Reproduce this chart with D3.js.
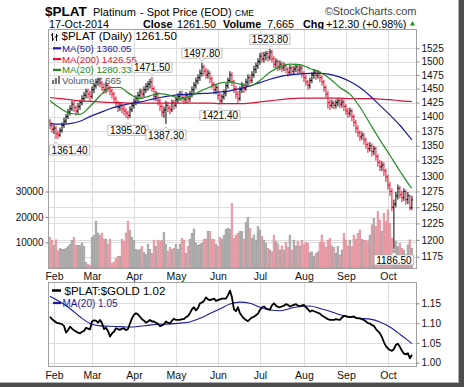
<!DOCTYPE html>
<html><head><meta charset="utf-8">
<script src="https://cdn.jsdelivr.net/npm/d3@7"></script>
<style>
html,body{margin:0;padding:0;background:#fff;}
svg{display:block;font-family:"Liberation Sans",Arial,sans-serif;}
</style></head><body>
<svg id="c" width="464" height="387"></svg>
<script>
// ---------------- data ----------------
const months = ["Feb","Mar","Apr","May","Jun","Jul","Aug","Sep","Oct"];
const monthStart = [2,21,42,63,84,105,127,148,169]; // trading-day index of first session of each month
const prevCloseStart = 1392;
const close = [1385,1378,1380,1370,1368,1376,1385,1392,1400,1408,1414,1422,1416,1410,1418,1425,1432,1438,1445,1440,1436,
1448,1455,1462,1466,1460,1452,1448,1456,1450,1446,1440,1432,1424,1416,1420,1414,1410,1406,1402,1412,1420,
1426,1432,1438,1444,1440,1448,1454,1458,1462,1450,1436,1440,1428,1418,1408,1412,1420,1415,1412,1425,1420,
1430,1436,1440,1434,1430,1438,1432,1440,1448,1456,1464,1470,1478,1490,1482,1475,1478,1468,1458,1448,1452,
1438,1428,1435,1442,1455,1465,1475,1462,1450,1440,1432,1448,1455,1450,1462,1470,1465,1475,1485,1492,1500,
1510,1505,1512,1515,1508,1518,1505,1495,1500,1490,1495,1488,1492,1485,1480,1488,1482,1486,1490,1484,1488,1478,
1470,1462,1456,1465,1475,1480,1474,1478,1470,1462,1452,1440,1425,1420,1424,1420,1425,1428,1422,1426,1418,
1410,1406,1410,1400,1390,1380,1372,1365,1368,1360,1352,1345,1350,1340,1345,1332,1322,1315,1318,1308,1298,
1285,1275,1250,1255,1268,1280,1270,1265,1275,1262,1268,1249.2,1261.5];
const high = [1396,1390,1386,1384,1376,1381,1390,1398,1405,1414,1420,1428,1428,1420,1424,1430,1438,1444,1450,1450,1446,
1454,1461,1468,1470,1470,1464,1458,1462,1460,1455,1450,1444,1436,1428,1426,1424,1420,1415,1410,1418,1425,
1432,1438,1444,1450,1450,1454,1460,1464,1468,1471.5,1454,1446,1444,1432,1422,1418,1428,1426,1420,1430,1430,
1436,1442,1446,1446,1440,1444,1442,1446,1454,1462,1470,1476,1485,1497.8,1494,1488,1485,1482,1472,1462,1458,
1456,1442,1440,1448,1460,1470,1482,1480,1466,1455,1446,1454,1462,1460,1468,1476,1476,1482,1492,1498,1506,
1516,1518,1518,1520,1520,1523.8,1522,1510,1506,1504,1502,1500,1498,1496,1490,1494,1492,1492,1496,1494,1494,1492,
1482,1475,1466,1470,1480,1486,1485,1484,1482,1474,1466,1456,1446,1430,1430,1428,1430,1433,1432,1432,1430,
1422,1415,1416,1414,1404,1394,1385,1376,1374,1372,1364,1356,1356,1354,1350,1348,1336,1326,1324,1322,1312,
1302,1290,1280,1262,1274,1286,1284,1276,1280,1278,1274,1270,1268];
const low = [1378,1372,1370,1361.4,1362,1365,1372,1380,1388,1396,1402,1410,1408,1402,1405,1412,1420,1426,1432,1432,1428,
1432,1442,1450,1455,1452,1446,1440,1442,1444,1438,1432,1424,1416,1408,1410,1406,1402,1398,1395.2,1398,1408,
1414,1420,1426,1432,1432,1434,1442,1446,1450,1444,1428,1428,1420,1410,1400,1398,1387.3,1408,1404,1408,1412,
1416,1424,1428,1426,1422,1424,1424,1426,1434,1442,1450,1458,1464,1472,1474,1468,1468,1460,1450,1440,1440,
1430,1421.4,1424,1430,1436,1450,1460,1455,1442,1432,1423,1428,1442,1442,1446,1456,1458,1460,1470,1478,1486,
1494,1498,1498,1502,1500,1502,1498,1488,1488,1482,1484,1480,1482,1478,1472,1474,1475,1476,1480,1476,1478,1470,
1462,1455,1448,1450,1460,1468,1466,1468,1462,1455,1444,1434,1414,1412,1415,1413,1414,1418,1415,1416,1410,
1403,1398,1400,1392,1383,1372,1365,1358,1360,1352,1345,1338,1340,1332,1334,1325,1315,1308,1308,1300,1290,
1278,1268,1244,1186.5,1250,1262,1264,1258,1260,1254,1255,1245,1246];
const volume = [12000,10700,8700,11000,6700,7600,7300,7300,7600,8500,9300,10700,12000,8900,8700,8700,9700,8400,2000,1300,900,
12000,12700,18400,13700,12700,13700,11300,11300,9300,11300,1700,2300,3600,4400,4600,11300,10300,13700,18400,14700,
12000,10700,7300,6900,7300,8400,6000,5300,9300,7300,5700,10900,8400,10700,10300,10700,
14000,9300,6500,8000,7300,7600,9300,7300,9300,11600,10700,5700,8400,11300,13600,15300,9700,8900,9300,9700,11300,11300,
14400,14400,11300,11100,9300,8400,12000,11300,12700,15000,15600,15200,25400,11600,12900,13600,14200,14200,11300,17800,
19900,15600,11600,12900,10900,
16200,14900,12300,10900,9600,7600,7000,6300,12900,10300,9400,7000,8600,7000,9900,8000,12900,7000,10900,8600,10300,8600,
10700,9000,9900,9600,5900,6300,4600,5700,6300,9900,12900,9900,8000,10900,11600,8600,8000,5700,8300,5000,7000,13600,
10900,8600,10900,8300,12900,11200,13600,14900,11200,10900,10700,10300,12900,16900,19500,16200,22100,18800,14200,21500,
18200,22800,17500,11600,7000,10300,8300,9600,7600,7000,5000,9000,11000,7665];
// moving averages read every 5 sessions (last entry = final session)
const maStep = 5;
const ma50 = [1388,1387,1388,1392,1400,1407,1414,1419,1423,1426,1430,1434,1437,1439,1440,1441,1442,1444,1446,1450,1455,1461,1467,1472,1475,1477,1478,1478,1476,1471,1463,1452,1437,1420,1403,1385,1364,1360.05];
const ma200 = [1434,1432,1430,1428,1427,1426,1425,1425,1424,1424,1424,1424,1424,1424,1424,1424,1424,1423,1423,1423,1424,1426,1428,1430,1432,1433,1433,1433,1433,1433,1432,1432,1432,1431,1430,1428,1427,1426.55];
const ma20 = [1428,1415,1406,1404,1418,1437,1452,1452,1440,1432,1437,1441,1438,1432,1436,1445,1453,1460,1462,1458,1455,1465,1480,1490,1495,1494,1487,1480,1468,1452,1440,1417,1388,1360,1334,1308,1284,1280.33];
const ratio = [1.116,1.110,1.106,1.102,1.100,1.099,1.097,1.093,1.076,1.082,1.091,1.086,1.082,1.079,1.076,1.074,1.078,1.080,1.088,1.086,1.084,
1.104,1.107,1.106,1.101,1.108,1.100,1.085,1.088,1.080,1.066,1.074,1.078,1.087,1.085,1.083,1.086,1.087,1.082,1.085,1.099,
1.112,1.121,1.125,1.122,1.116,1.110,1.106,1.101,1.104,1.108,1.104,1.104,1.101,1.098,1.092,1.094,1.097,1.104,1.101,1.099,
1.106,1.111,1.108,1.108,1.108,1.110,1.110,1.115,1.118,1.125,1.135,1.140,1.132,1.138,1.150,1.152,1.156,1.165,1.160,1.158,
1.160,1.162,1.156,1.158,1.160,1.162,1.162,1.162,1.170,1.182,1.165,1.135,1.130,1.140,1.125,1.118,1.112,1.108,1.105,1.110,
1.114,1.116,1.120,1.124,1.133,1.140,1.142,1.137,1.135,1.134,1.145,1.150,1.144,1.141,1.140,1.142,1.144,1.148,1.146,1.142,
1.144,1.146,1.148,1.144,1.142,1.145,1.146,1.140,1.135,1.129,1.132,1.130,1.128,1.126,1.124,1.119,1.116,1.113,1.110,1.108,
1.108,1.108,1.110,1.109,1.108,1.114,1.118,1.117,1.116,1.115,1.116,1.117,1.113,1.112,1.112,1.110,1.108,1.104,1.100,1.099,
1.095,1.093,1.085,1.080,1.074,1.065,1.052,1.042,1.036,1.032,1.030,1.034,1.045,1.048,1.040,1.030,1.023,1.021,1.024,1.011,1.020];
const ratioMa20 = [1.168,1.154,1.137,1.116,1.099,1.093,1.092,1.091,1.090,1.092,1.095,1.097,1.098,1.100,1.103,1.112,1.124,1.136,1.148,1.153,1.150,1.140,1.133,1.131,1.137,1.142,1.143,1.137,1.130,1.121,1.116,1.112,1.110,1.103,1.090,1.072,1.052,1.048];
const priceTicks = [1175,1200,1225,1250,1275,1300,1325,1350,1375,1400,1425,1450,1475,1500,1525];
const volTicks = [10000,20000,30000];
const ratioTicks = [1.00,1.05,1.10,1.15];
const marks = [{i:3,t:"low"},{i:39,t:"low"},{i:51,t:"high"},{i:58,t:"low"},{i:76,t:"high"},{i:85,t:"low"},{i:110,t:"high"},{i:172,t:"low"}];

// ---------------- layout ----------------
const svg = d3.select("#c");
const L = 48.5, R = 416.5, T1 = 29.5, B1 = 268.5, T2 = 282.5, B2 = 366.5;
const N = close.length;
const xs = d3.scaleLinear().domain([-0.75, 183.3]).range([L, R]);
const yP = d3.scaleLog().domain([1175, 1525]).range([256.7, 48.3]);
const yV = d3.scaleLinear().domain([0, 10000]).range([267.8, 242.4]);
const yR = d3.scaleLinear().domain([1.00, 1.15]).range([362.7, 303.3]);
const maIdx = k => Math.min(k * maStep, N - 1);

svg.append("rect").attr("width",464).attr("height",387).attr("fill","#fff");
// frame shadow
svg.append("rect").attr("x",458).attr("y",0).attr("width",1).attr("height",387).attr("fill","#b0b0b0");
svg.append("rect").attr("x",459).attr("y",0).attr("width",5).attr("height",387).attr("fill","#4d4d4d");
svg.append("rect").attr("x",0).attr("y",382).attr("width",459).attr("height",1).attr("fill","#b0b0b0");
svg.append("rect").attr("x",0).attr("y",383).attr("width",464).attr("height",4).attr("fill","#4d4d4d");

const defs = svg.append("defs");
defs.append("clipPath").attr("id","cp1").append("rect").attr("x",L).attr("y",T1).attr("width",R-L).attr("height",B1-T1);
defs.append("clipPath").attr("id","cp2").append("rect").attr("x",L).attr("y",T2).attr("width",R-L).attr("height",B2-T2);

// ---------------- header ----------------
const hdr = svg.append("g").attr("fill","#000");
hdr.append("text").attr("x",45).attr("y",15.8).attr("font-weight","bold").attr("font-size",13.5).text("$PLAT");
hdr.append("text").attr("x",93).attr("y",15.8).attr("font-size",11).text("Platinum");
hdr.append("text").attr("x",140).attr("y",15.8).attr("font-size",11).text("- Spot Price (EOD)");
hdr.append("text").attr("x",235).attr("y",15.8).attr("font-size",8.5).text("CME");
hdr.append("text").attr("x",416.5).attr("y",15).attr("text-anchor","end").attr("font-size",11).attr("fill","#444").text("\u00A9StockCharts.com");
hdr.append("text").attr("x",49).attr("y",28).attr("font-size",10.8).text("17-Oct-2014");
hdr.append("text").attr("x",143).attr("y",28).attr("font-size",10.8).attr("font-weight","bold").text("Close");
hdr.append("text").attr("x",177).attr("y",28).attr("font-size",10.8).text("1261.50");
hdr.append("text").attr("x",223).attr("y",28).attr("font-size",10.8).attr("font-weight","bold").text("Volume");
hdr.append("text").attr("x",267).attr("y",28).attr("font-size",10.8).text("7,665");
hdr.append("text").attr("x",303).attr("y",28).attr("font-size",10.8).attr("font-weight","bold").text("Chg");
hdr.append("text").attr("x",326).attr("y",28).attr("font-size",10.8).text("+12.30 (+0.98%)");
hdr.append("path").attr("d","M410,25.5L415,25.5L412.5,21Z").attr("fill","#1a9a1a");

// ---------------- main panel ----------------
const grid = svg.append("g").attr("stroke","#dddddd").attr("stroke-width",1).attr("shape-rendering","crispEdges");
priceTicks.forEach(p => grid.append("line").attr("x1",L).attr("x2",R).attr("y1",Math.round(yP(p))+0.5).attr("y2",Math.round(yP(p))+0.5));
volTicks.forEach(v => grid.append("line").attr("x1",L).attr("x2",R).attr("y1",Math.round(yV(v))+0.5).attr("y2",Math.round(yV(v))+0.5));
monthStart.forEach(i => grid.append("line").attr("x1",Math.round(xs(i))+0.5).attr("x2",Math.round(xs(i))+0.5).attr("y1",T1).attr("y2",B1));
monthStart.forEach(i => grid.append("line").attr("x1",Math.round(xs(i))+0.5).attr("x2",Math.round(xs(i))+0.5).attr("y1",T2).attr("y2",B2));
ratioTicks.forEach(v => grid.append("line").attr("x1",L).attr("x2",R).attr("y1",Math.round(yR(v))+0.5).attr("y2",Math.round(yR(v))+0.5));

const bars = close.map((c,i) => {
  const o = i === 0 ? prevCloseStart : close[i-1];
  return {i, o, h: high[i], l: low[i], c, v: volume[i], up: c >= o};
});

const g1 = svg.append("g").attr("clip-path","url(#cp1)");
// volume
g1.append("g").selectAll("rect").data(bars).join("rect")
  .attr("x", d => xs(d.i) - 0.9).attr("width", 1.8)
  .attr("y", d => yV(d.v)).attr("height", d => yV(0) - yV(d.v))
  .attr("fill", d => d.up ? "#b9b9b9" : "#f0aab3")
  .attr("stroke", d => d.up ? "#8a8a8a" : "#d97a88").attr("stroke-width", 0.45);
// price bars
const pb = g1.append("g").attr("stroke-width",1);
bars.forEach(d => {
  const x = xs(d.i), col = d.up ? "#000" : "#dc0f2f";
  pb.append("line").attr("x1",x).attr("x2",x).attr("y1",yP(d.h)).attr("y2",yP(d.l)).attr("stroke",col);
  pb.append("line").attr("x1",x-1.2).attr("x2",x).attr("y1",yP(d.o)).attr("y2",yP(d.o)).attr("stroke",col);
  pb.append("line").attr("x1",x).attr("x2",x+1.2).attr("y1",yP(d.c)).attr("y2",yP(d.c)).attr("stroke",col);
});
// moving averages
const maLine = d3.line().x((d,k) => xs(maIdx(k))).y(d => yP(d)).curve(d3.curveMonotoneX);
g1.append("path").attr("d", maLine(ma200)).attr("fill","none").attr("stroke","#dc1437").attr("stroke-width",1.2);
g1.append("path").attr("d", maLine(ma50)).attr("fill","none").attr("stroke","#1c1c9a").attr("stroke-width",1.2);
g1.append("path").attr("d", maLine(ma20)).attr("fill","none").attr("stroke","#238a23").attr("stroke-width",1.2);

// legend main
const lg = svg.append("g");
lg.append("path").attr("d","M52.5,33v8M51,35h1.5M52.5,39h1.5M56.5,34v7M55,37h1.5M56.5,36h1.5").attr("stroke","#000").attr("stroke-width",1).attr("fill","none");
lg.append("text").attr("x",61.5).attr("y",39.5).attr("font-size",11.5).text("$PLAT (Daily) 1261.50");
const maLeg = [["MA(50) 1360.05","#1c1c9a",51.8],["MA(200) 1426.55","#dc1437",62.6],["MA(20) 1280.33","#238a23",73.4]];
maLeg.forEach(([t,c,y]) => {
  lg.append("line").attr("x1",53).attr("x2",61).attr("y1",y-3.5).attr("y2",y-3.5).attr("stroke",c).attr("stroke-width",2.2);
  lg.append("text").attr("x",62).attr("y",y).attr("font-size",9.7).attr("fill",c).text(t);
});
lg.append("path").attr("d","M52,84v-4h2v4zM55,84v-6h2v6zM58,84v-8h2v8z").attr("fill","#777");
lg.append("text").attr("x",62).attr("y",84.2).attr("font-size",9.7).attr("fill","#555").text("Volume 7,665");

// annotations
const ann = svg.append("g");
marks.forEach(m => {
  const v = m.t === "high" ? high[m.i] : low[m.i];
  const cx = xs(m.i), py = yP(v);
  const t = ann.append("text").attr("font-size",10).attr("text-anchor","middle").text(v.toFixed(2));
  const w = t.node().getComputedTextLength() + 4, h = 10;
  const top = m.t === "high" ? py - 4.5 - h : py + 6;
  const bx = Math.max(L + 1, Math.min(R - 1 - w, cx - w/2));
  const tri = m.t === "high"
    ? `M${cx-3},${top+h} L${cx},${top+h+3} L${cx+3},${top+h}`
    : `M${cx-3},${top} L${cx},${top-3} L${cx+3},${top}`;
  ann.insert("path","text").attr("d",`M${bx},${top}h${w}v${h}h${-w}Z`).attr("fill","#fff").attr("stroke","#b0b0b0").attr("stroke-width",0.8);
  ann.insert("path","text").attr("d",tri).attr("fill","#fff").attr("stroke","#b0b0b0").attr("stroke-width",0.8);
  t.attr("x", bx + w/2).attr("y", top + 8.6).raise();
});

// panel 1 border
svg.append("rect").attr("x",L).attr("y",T1).attr("width",R-L).attr("height",B1-T1).attr("fill","none").attr("stroke","#a0a0a0");

// axes main
const axP = svg.append("g").attr("transform",`translate(${R},0)`)
  .call(d3.axisRight(yP).tickValues(priceTicks).tickSize(3).tickPadding(2).tickFormat(d3.format("d")));
const axV = svg.append("g").attr("transform",`translate(${L},0)`)
  .call(d3.axisLeft(yV).tickValues(volTicks).tickSize(3).tickPadding(2).tickFormat(d3.format("d")));
const axM1 = svg.append("g").attr("transform",`translate(0,${B1})`)
  .call(d3.axisBottom(xs).tickValues(monthStart).tickSize(0).tickPadding(4.5).tickFormat((d,k) => months[k]));

// ---------------- lower panel ----------------
const g2 = svg.append("g").attr("clip-path","url(#cp2)");
const rLine = d3.line().x((d,i) => xs(i)).y(d => yR(d));
const rMaLine = d3.line().x((d,k) => xs(maIdx(k))).y(d => yR(d)).curve(d3.curveMonotoneX);
g2.append("path").attr("d", rMaLine(ratioMa20)).attr("fill","none").attr("stroke","#1c1c9a").attr("stroke-width",1.1);
g2.append("path").attr("d", rLine(ratio)).attr("fill","none").attr("stroke","#000").attr("stroke-width",1.8).attr("stroke-linejoin","round");

const lg2 = svg.append("g");
lg2.append("line").attr("x1",52).attr("x2",61).attr("y1",290.5).attr("y2",290.5).attr("stroke","#000").attr("stroke-width",2.5);
lg2.append("text").attr("x",64.5).attr("y",294.5).attr("font-size",11.5).text("$PLAT:$GOLD 1.02");
lg2.append("line").attr("x1",53).attr("x2",61).attr("y1",303).attr("y2",303).attr("stroke","#1c1c9a").attr("stroke-width",2.2);
lg2.append("text").attr("x",62.5).attr("y",306.8).attr("font-size",10).attr("fill","#1c1c9a").text("MA(20) 1.05");

svg.append("rect").attr("x",L).attr("y",T2).attr("width",R-L).attr("height",B2-T2).attr("fill","none").attr("stroke","#a0a0a0");
const axR = svg.append("g").attr("transform",`translate(${R},0)`)
  .call(d3.axisRight(yR).tickValues(ratioTicks).tickSize(3).tickPadding(2).tickFormat(d3.format(".2f")));
const axM2 = svg.append("g").attr("transform",`translate(0,${B2})`)
  .call(d3.axisBottom(xs).tickValues(monthStart).tickSize(0).tickPadding(4.8).tickFormat((d,k) => months[k]));

[axP, axV, axR, axM1, axM2].forEach(a => {
  a.select(".domain").remove();
  a.selectAll("text").attr("font-family",'"Liberation Sans",Arial,sans-serif').attr("font-size",10).attr("fill","#111");
  a.selectAll("line").attr("stroke","#888");
});
[axM1, axM2].forEach(a => a.selectAll("text").attr("font-size",10.5));
</script>
</body></html>
